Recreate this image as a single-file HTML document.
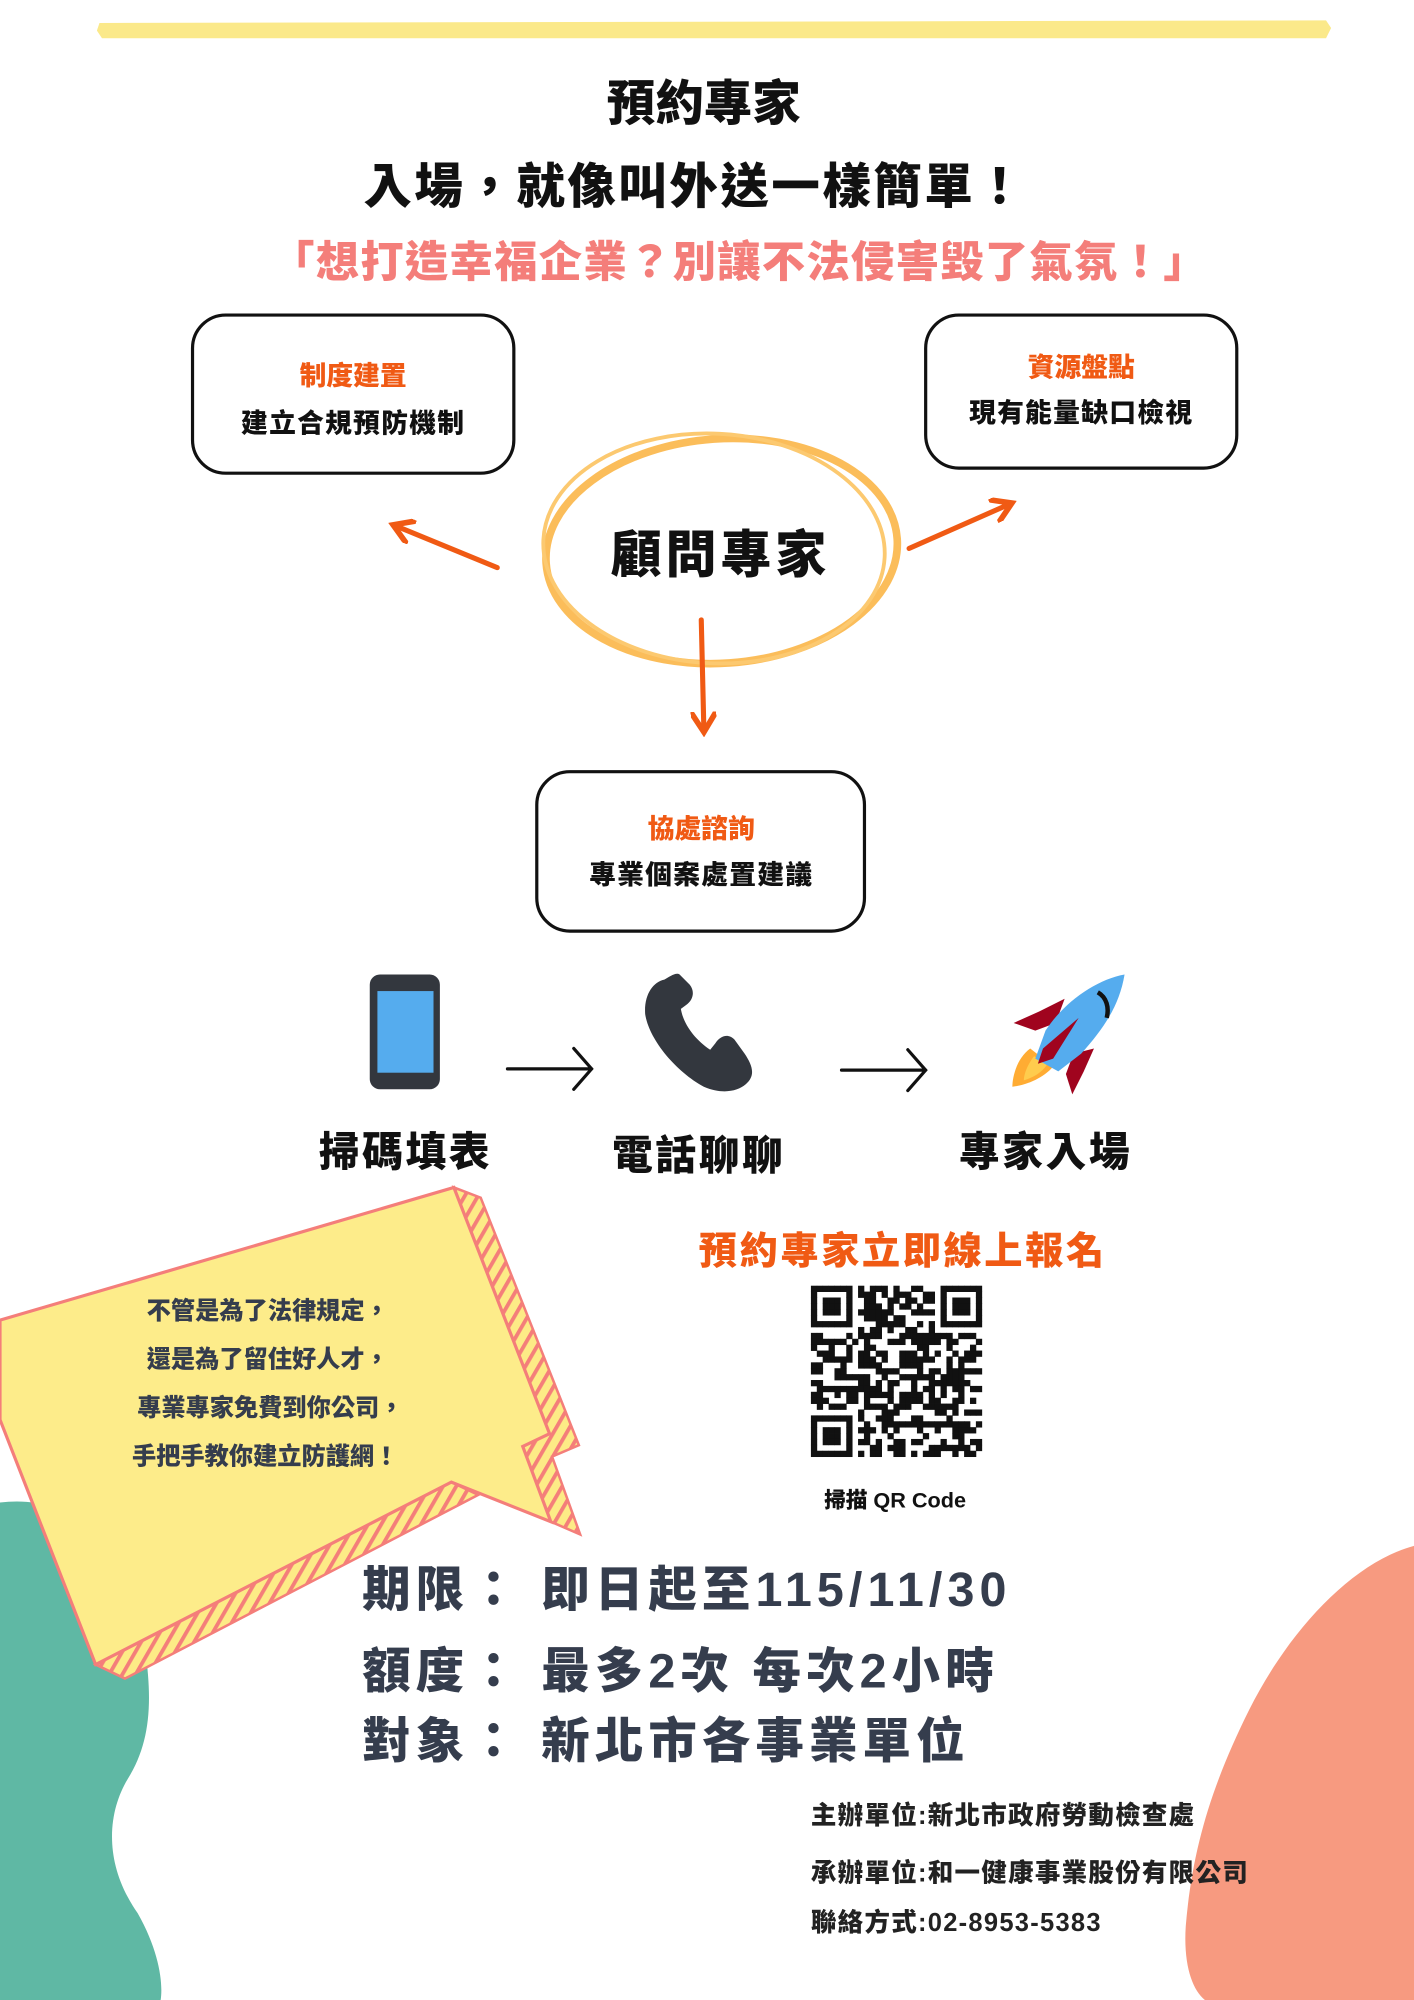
<!DOCTYPE html>
<html><head><meta charset="utf-8"><style>
html,body{margin:0;padding:0;background:#fff;width:1414px;height:2000px;overflow:hidden}
svg{display:block}
text{font-family:"Liberation Sans","Noto Sans CJK TC",sans-serif;font-weight:900}
</style></head><body>
<svg width="1414" height="2000" viewBox="0 0 1109 1568" preserveAspectRatio="none" xmlns="http://www.w3.org/2000/svg">
<defs>
<pattern id="st" patternUnits="userSpaceOnUse" width="9" height="9" patternTransform="rotate(30)">
<rect width="9" height="9" fill="#fdeb86"/><rect width="3" height="9" fill="#f47e7a"/></pattern>
<marker id="ah" viewBox="0 0 10 10" refX="6" refY="5" markerWidth="5" markerHeight="5" orient="auto"><path d="M0,0 L8,5 L0,10" fill="none" stroke="#f05a14" stroke-width="2.2" stroke-linecap="round"/></marker>
</defs>
<!-- blobs -->
<path d="M0,1178 C50,1172 95,1200 108,1260 C120,1320 122,1360 100,1395 C85,1420 80,1460 108,1500 C125,1530 128,1555 126,1568 L0,1568 Z" fill="#5fb8a4"/>
<path d="M1109,1212 C1060,1225 1010,1280 980,1340 C950,1400 935,1450 930,1510 C928,1540 935,1560 945,1568 L1109,1568 Z" fill="#f79a80"/>
<!-- top bar -->
<polygon points="78,18 1040,16 1044,22 1040,30 80,30 76,24" fill="#fbe98a"/>
<!-- titles -->
<text x="552" y="94" font-size="38" text-anchor="middle" fill="#111">預約專家</text>
<text x="545" y="159" font-size="38" text-anchor="middle" fill="#111" letter-spacing="2">入場，就像叫外送一樣簡單！</text>
<text x="580" y="217" font-size="34" text-anchor="middle" fill="#f47e7a" letter-spacing="1">「想打造幸福企業？別讓不法侵害毀了氣氛！」</text>
<!-- boxes -->
<rect x="151" y="247" width="252" height="124" rx="26" fill="#fff" stroke="#111" stroke-width="2.5"/>
<text x="277" y="302" font-size="21" text-anchor="middle" fill="#f05a14">制度建置</text>
<text x="277" y="339" font-size="21" text-anchor="middle" fill="#111" letter-spacing="1">建立合規預防機制</text>
<rect x="726" y="247" width="244" height="120" rx="26" fill="#fff" stroke="#111" stroke-width="2.5"/>
<text x="848" y="295" font-size="21" text-anchor="middle" fill="#f05a14">資源盤點</text>
<text x="848" y="331" font-size="21" text-anchor="middle" fill="#111" letter-spacing="1">現有能量缺口檢視</text>
<rect x="421" y="605" width="257" height="125" rx="26" fill="#fff" stroke="#111" stroke-width="2.5"/>
<text x="550" y="657" font-size="21" text-anchor="middle" fill="#f05a14">協處諮詢</text>
<text x="550" y="693" font-size="21" text-anchor="middle" fill="#111" letter-spacing="1">專業個案處置建議</text>
<!-- circle -->
<ellipse cx="566" cy="432" rx="138" ry="88" fill="none" stroke="#fbbd5a" stroke-width="6" transform="rotate(-4 566 432)"/>
<ellipse cx="560" cy="430" rx="134" ry="90" fill="none" stroke="#fcc970" stroke-width="3" transform="rotate(3 560 430)"/>
<text x="565" y="449" font-size="40" text-anchor="middle" fill="#111" letter-spacing="3">顧問專家</text>
<!-- arrows -->
<g stroke="#f05a14" stroke-width="4" fill="none" stroke-linecap="round">
<path d="M390,445 L312,413" marker-end="url(#ah)"/>
<path d="M713,430 L790,396" marker-end="url(#ah)"/>
<path d="M550,486 L552,570" marker-end="url(#ah)"/>
</g>
<!-- phone -->
<rect x="290" y="764" width="55" height="90" rx="8" fill="#33373e"/>
<rect x="296" y="777" width="44" height="64" fill="#55acee"/>
<!-- arrows black -->
<g stroke="#111" stroke-width="2.5" fill="none" stroke-linecap="round">
<path d="M398,838 H464 M450,822 L464,838 L450,854"/>
<path d="M660,839 H726 M712,823 L726,839 L712,855"/>
</g>
<!-- handset -->
<path d="M521,768 C512,770 505,780 506,795 C509,815 530,840 552,852 C566,858 578,856 585,850 C593,843 590,835 584,826 L576,815 C571,810 565,812 561,818 L557,823 C545,815 536,803 534,791 L538,788 C544,784 545,777 541,772 L533,764 C530,762 525,766 521,768 Z" fill="#33373e"/>
<!-- rocket -->
<g>
<path d="M835,783 L815,793 L795,802 L812,808 L828,802 Z" fill="#a0041e"/>
<path d="M858,822 L850,840 L841,858 L836,842 L842,826 Z" fill="#a0041e"/>
<path d="M808,822 C797,830 794,845 794,852 C803,851 818,846 826,836 Z" fill="#ffac33"/>
<path d="M811,828 C805,836 803,843 803,847 C810,845 817,841 821,835 Z" fill="#ffcc4d"/>
<path d="M882,764 C860,768 835,785 820,808 L812,830 L830,840 L848,826 C866,806 878,788 882,764 Z" fill="#55acee"/>
<path d="M846,798 L818,822 L814,834 L826,830 Z" fill="#a0041e"/>
<path d="M861,778 C868,782 870,790 868,798" stroke="#111" stroke-width="3.5" fill="none"/>
</g>
<!-- labels -->
<text x="318" y="914" font-size="32" text-anchor="middle" fill="#111" letter-spacing="2">掃碼填表</text>
<text x="548" y="917" font-size="32" text-anchor="middle" fill="#111" letter-spacing="2">電話聊聊</text>
<text x="820" y="914" font-size="32" text-anchor="middle" fill="#111" letter-spacing="2">專家入場</text>
<!-- bubble -->
<polygon points="356,931 377,939 454,1133 433,1142 455,1203 432,1193 410,1134 431,1124" fill="url(#st)" stroke="#f47e7a" stroke-width="2"/>
<polygon points="354,1162 375,1172 98,1316 75,1305" fill="url(#st)" stroke="#f47e7a" stroke-width="2"/>
<polygon points="0,1035 356,931 431,1124 410,1134 432,1193 354,1162 75,1305 0,1113" fill="#fdec8a" stroke="#f47e7a" stroke-width="2.5"/>
<g font-size="19" fill="#353d4d" text-anchor="middle">
<text x="210" y="1034">不管是為了法律規定，</text>
<text x="210" y="1072">還是為了留住好人才，</text>
<text x="212" y="1110">專業專家免費到你公司，</text>
<text x="208" y="1148">手把手教你建立防護網！</text>
</g>
<!-- registration -->
<text x="708" y="991" font-size="30" text-anchor="middle" fill="#f05a14" letter-spacing="2">預約專家立即線上報名</text>
<g id="qr"></g>
<text x="702" y="1182" font-size="17" text-anchor="middle" fill="#111">掃描 QR Code</text>
<!-- info -->
<g fill="#353d4d" font-size="38" letter-spacing="4">
<text x="284" y="1259">期限：  即日起至115/11/30</text>
<text x="284" y="1323">額度：  最多2次 每次2小時</text>
<text x="284" y="1378">對象：  新北市各事業單位</text>
</g>
<g fill="#222" font-size="20" letter-spacing="1">
<text x="636" y="1430">主辦單位:新北市政府勞動檢查處</text>
<text x="636" y="1475">承辦單位:和一健康事業股份有限公司</text>
<text x="636" y="1514">聯絡方式:02-8953-5383</text>
</g>
</svg>
<script>
(function(){
var g=document.getElementById('qr'),N=29,x0=636,y0=1008,s=134/N,h='';
var seed=7;function r(){seed=(seed*9301+49297)%233280;return seed/233280;}
for(var y=0;y<N;y++)for(var x=0;x<N;x++){
var on=false,f=null;
[[0,0],[N-7,0],[0,N-7]].forEach(function(p){var dx=x-p[0],dy=y-p[1];if(dx>=-1&&dx<8&&dy>=-1&&dy<8)f=[dx,dy];});
if(f){var dx=f[0],dy=f[1];if(dx<0||dy<0||dx>6||dy>6)on=false;else on=(dx==0||dx==6||dy==0||dy==6||(dx>=2&&dx<=4&&dy>=2&&dy<=4));}
else on=r()<0.5;
if(on)h+='<rect x="'+(x0+x*s).toFixed(2)+'" y="'+(y0+y*s).toFixed(2)+'" width="'+(s+0.3).toFixed(2)+'" height="'+(s+0.3).toFixed(2)+'" fill="#111"/>';
}
g.innerHTML=h;
})();
</script>
</body></html>
